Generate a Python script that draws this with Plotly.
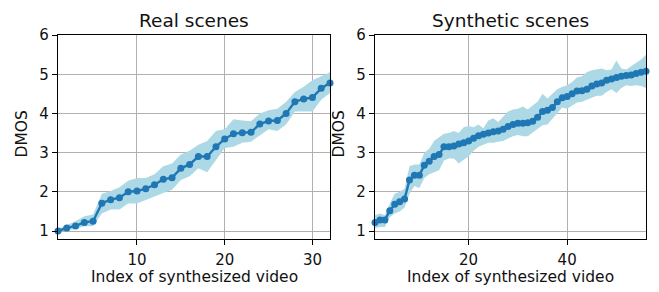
import plotly.graph_objects as go

real_mean = [1.0, 1.08, 1.13, 1.22, 1.25, 1.71, 1.80, 1.85, 2.0, 2.02, 2.08, 2.18, 2.32, 2.36, 2.6, 2.7,
             2.9, 2.9, 3.15, 3.35, 3.48, 3.51, 3.52, 3.73, 3.81, 3.82, 4.0, 4.3, 4.37, 4.41, 4.64, 4.78]
real_upper = [1.05, 1.15, 1.25, 1.38, 1.42, 1.95, 2.02, 2.12, 2.28, 2.35, 2.35, 2.45, 2.65, 2.72, 2.95, 3.05,
              3.2, 3.3, 3.55, 3.6, 3.85, 3.82, 3.8, 4.0, 4.08, 4.12, 4.3, 4.55, 4.68, 4.85, 4.95, 5.05]
real_lower = [0.97, 1.02, 1.05, 1.12, 1.12, 1.45, 1.55, 1.55, 1.7, 1.7, 1.78, 1.88, 1.97, 2.05, 2.3, 2.4,
              2.6, 2.5, 2.8, 3.12, 3.15, 3.25, 3.28, 3.45, 3.6, 3.55, 3.72, 4.05, 4.05, 4.05, 4.35, 4.52]

syn_mean = [1.22, 1.28, 1.28, 1.52, 1.68, 1.75, 1.82, 2.3, 2.42, 2.42, 2.68, 2.78, 2.9, 2.95, 3.15, 3.15,
            3.17, 3.22, 3.25, 3.3, 3.37, 3.43, 3.47, 3.5, 3.53, 3.55, 3.6, 3.67, 3.72, 3.75, 3.75, 3.76,
            3.8, 3.9, 4.05, 4.08, 4.15, 4.3, 4.4, 4.43, 4.5, 4.57, 4.58, 4.62, 4.7, 4.75, 4.78, 4.85,
            4.88, 4.92, 4.95, 4.97, 4.98, 5.02, 5.05, 5.08]
syn_upper = [1.4, 1.45, 1.4, 1.7, 1.95, 2.0, 2.08, 2.65, 2.7, 2.7, 3.0, 3.1, 3.3, 3.38, 3.48, 3.5,
             3.55, 3.5, 3.65, 3.68, 3.65, 3.72, 3.62, 3.82, 3.88, 3.78, 3.92, 4.05, 4.1, 4.12, 4.18, 4.1,
             4.2, 4.3, 4.5, 4.38, 4.5, 4.62, 4.68, 4.72, 4.8, 4.92, 4.95, 5.05, 5.1, 5.12, 5.15, 5.1,
             5.12, 5.35, 5.15, 5.12, 5.2, 5.28, 5.38, 5.5]
syn_lower = [1.08, 1.1, 1.1, 1.35, 1.45, 1.5, 1.6, 1.95, 2.15, 2.1, 2.35, 2.45, 2.5, 2.55, 2.8, 2.85,
             2.85, 2.72, 2.82, 2.9, 3.05, 3.15, 3.2, 3.25, 3.25, 3.28, 3.3, 3.35, 3.42, 3.45, 3.42, 3.42,
             3.5, 3.6, 3.7, 3.72, 3.85, 4.0, 4.15, 4.12, 4.2, 4.28, 4.3, 4.35, 4.4, 4.45, 4.45, 4.55,
             4.62, 4.52, 4.65, 4.72, 4.7, 4.72, 4.7, 4.65]

titles = ["Real scenes", "Synthetic scenes"]
x_label = "Index of synthesized video"
y_label = "DMOS"
real_xticks = [10, 20, 30]
syn_xticks = [20, 40]
y_ticks = [1, 2, 3, 4, 5, 6]

LINE = "#1f77b4"
BAND = "#add8e6"
FONT = "DejaVu Sans, sans-serif"
TICK_SIZE = 15
LABEL_SIZE = 15.5
TITLE_SIZE = 18.5

fig = go.Figure()

def add_panel(mean, upper, lower, xa, ya):
    x = list(range(1, len(mean) + 1))
    fig.add_trace(go.Scatter(x=x + x[::-1], y=upper + lower[::-1], fill="toself",
                             fillcolor=BAND, line=dict(width=0), mode="lines",
                             hoverinfo="skip", showlegend=False, xaxis=xa, yaxis=ya))
    fig.add_trace(go.Scatter(x=x, y=mean, mode="lines+markers",
                             line=dict(color=LINE, width=2.4),
                             marker=dict(color=LINE, size=7),
                             showlegend=False, xaxis=xa, yaxis=ya, cliponaxis=False))

add_panel(real_mean, real_upper, real_lower, "x", "y")
add_panel(syn_mean, syn_upper, syn_lower, "x2", "y2")

W, H = 659, 292
L1, R1, L2, R2, T, B = 58, 330, 375, 646, 27, 238
yd = [1 - B / H, 1 - T / H]
common_ax = dict(showline=True, mirror=True, linecolor="black", linewidth=1.2,
                 ticks="outside", ticklen=5, tickcolor="black", tickwidth=1.2,
                 showgrid=True, gridcolor="#b0b0b0", gridwidth=1.2, zeroline=False,
                 tickfont=dict(family=FONT, size=TICK_SIZE, color="#111111"))

def ann(text, x, y, size, angle=0):
    return dict(text=text, x=x / W, y=1 - y / H, xref="paper", yref="paper",
                xanchor="center", yanchor="middle", textangle=angle, showarrow=False,
                font=dict(family=FONT, size=size, color="#111111"))

fig.update_layout(
    width=W, height=H, margin=dict(l=0, r=0, t=0, b=0),
    paper_bgcolor="white", plot_bgcolor="white",
    xaxis=dict(domain=[L1 / W, R1 / W], range=[1, 32], tickvals=real_xticks, anchor="y",
               ticklabelstandoff=2, **common_ax),
    yaxis=dict(domain=yd, range=[0.8, 6], tickvals=y_ticks, anchor="x", **common_ax),
    xaxis2=dict(domain=[L2 / W, R2 / W], range=[1, 56], tickvals=syn_xticks, anchor="y2",
                ticklabelstandoff=2, **common_ax),
    yaxis2=dict(domain=yd, range=[0.8, 6], tickvals=y_ticks, anchor="x2", **common_ax),
    annotations=[
        ann(titles[0], (L1 + R1) / 2, 12, TITLE_SIZE),
        ann(titles[1], (L2 + R2) / 2, 12, TITLE_SIZE),
        ann(x_label, (L1 + R1) / 2, 278, LABEL_SIZE),
        ann(x_label, (L2 + R2) / 2, 278, LABEL_SIZE),
        ann(y_label, 22, 130, LABEL_SIZE, -90),
        ann(y_label, 339, 130, LABEL_SIZE, -90),
    ],
)

fig.write_html("out.html", config={"displayModeBar": False},
               post_script="document.body.style.margin='0px';document.body.style.padding='0px';")
